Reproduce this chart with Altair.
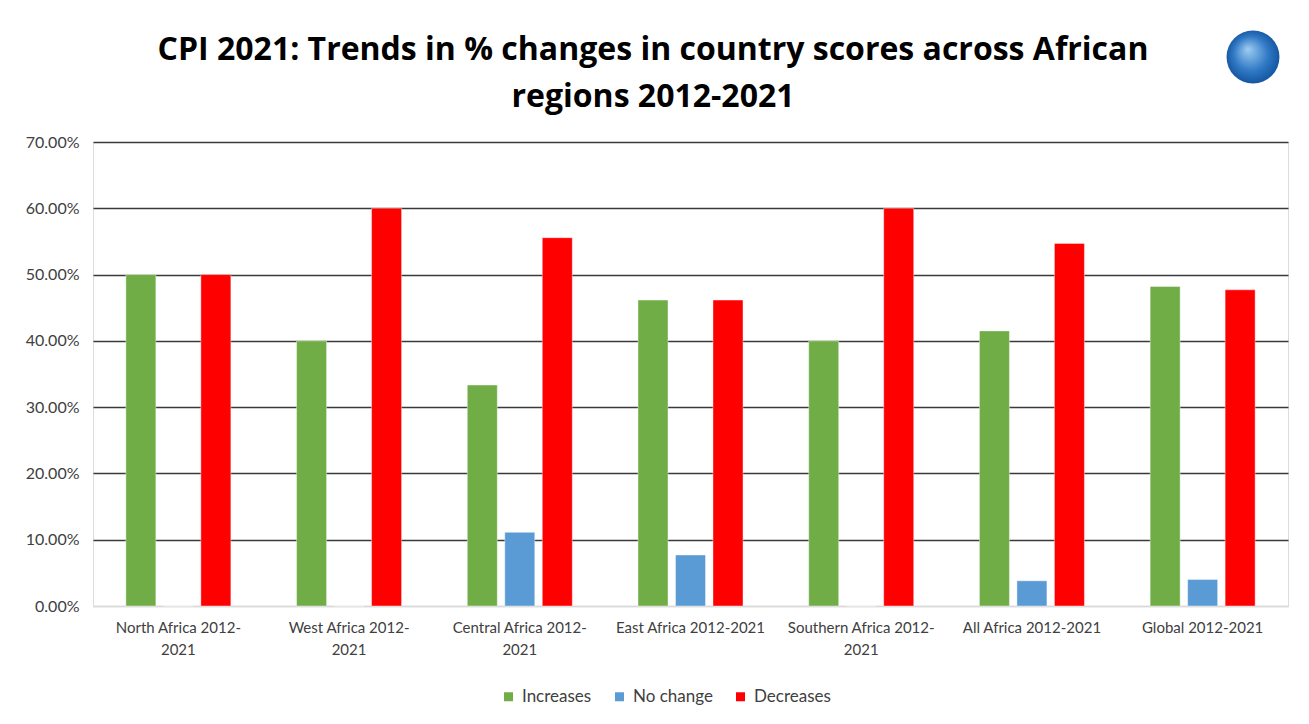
import altair as alt
import pandas as pd

regions = [
    "North Africa 2012-|2021",
    "West Africa 2012-|2021",
    "Central Africa 2012-|2021",
    "East Africa 2012-2021",
    "Southern Africa 2012-|2021",
    "All Africa 2012-2021",
    "Global 2012-2021",
]
series = ["Increases", "No change", "Decreases"]
colors = ["#70AD47", "#5B9BD5", "#FF0000"]

increases = [0.500, 0.400, 0.3333, 0.4615, 0.400, 0.415, 0.482]
no_change = [0.000, 0.000, 0.1111, 0.0769, 0.000, 0.038, 0.040]
decreases = [0.500, 0.600, 0.5556, 0.4615, 0.600, 0.547, 0.477]
y_ticks = [0.0, 0.1, 0.2, 0.3, 0.4, 0.5, 0.6, 0.7]

rows = []
for name, vals in zip(series, [increases, no_change, decreases]):
    for r, v in zip(regions, vals):
        rows.append({"region": r, "series": name, "value": v})
df = pd.DataFrame(rows)

FONT = "Lato"

bars = (
    alt.Chart(df)
    .mark_bar(stroke="#ffffff", strokeOpacity=0.5, strokeWidth=0.8)
    .encode(
        x=alt.X(
            "region:N",
            sort=regions,
            scale=alt.Scale(paddingInner=0.385, paddingOuter=0.1925),
            axis=alt.Axis(
                title=None,
                labelAngle=0,
                labelExpr="split(datum.label, '|')",
                ticks=False,
                grid=False,
                domainColor="#D9D9D9",
                domainWidth=1.5,
                labelFont=FONT,
                labelFontSize=15,
                labelColor="#404040",
                labelPadding=14,
                labelLimit=300,
                labelLineHeight=22,
            ),
        ),
        xOffset=alt.XOffset(
            "series:N", sort=series, scale=alt.Scale(paddingInner=0.2, paddingOuter=0)
        ),
        y=alt.Y(
            "value:Q",
            scale=alt.Scale(domain=[0, 0.7], nice=False),
            axis=alt.Axis(
                title=None,
                format=".2%",
                values=y_ticks,
                domain=False,
                ticks=False,
                gridColor=alt.condition(
                    "datum.value == 0", alt.value("#D9D9D9"), alt.value("#3a3a3a")
                ),
                gridWidth=1.5,
                labelFont=FONT,
                labelFontSize=16,
                labelColor="#404040",
                labelPadding=14,
                minExtent=75,
                maxExtent=75,
            ),
        ),
        color=alt.Color(
            "series:N",
            sort=series,
            scale=alt.Scale(domain=series, range=colors),
            legend=alt.Legend(
                title=None,
                orient="none",
                legendX=407,
                legendY=546,
                direction="horizontal",
                symbolType="square",
                symbolSize=81,
                symbolStrokeWidth=0,
                labelFont=FONT,
                labelFontSize=17,
                labelColor="#404040",
                labelOffset=5,
                columnPadding=19,
            ),
        ),
    )
)

logo = (
    alt.Chart(alt.Data(values=[{"logo": 1}]))
    .mark_point(
        shape="circle",
        filled=True,
        size=2800,
        opacity=1,
        clip=False,
        fill=alt.Gradient(
            gradient="radial",
            stops=[
                alt.GradientStop(color="#9fcdf2", offset=0),
                alt.GradientStop(color="#2f78c4", offset=0.6),
                alt.GradientStop(color="#0f4f9a", offset=1),
            ],
            x1=0.4, y1=0.35, x2=0.5, y2=0.5, r1=0, r2=0.55,
        ),
    )
    .encode(x=alt.value(1160), y=alt.value(-85))
)

chart = (
    alt.layer(bars, logo)
    .properties(
        width=1195,
        height=464,
        padding={"left": 10, "top": 22, "right": 10, "bottom": 5},
        title=alt.Title(
            ["CPI 2021: Trends in % changes in country scores across African", "regions 2012-2021"],
            font="Open Sans",
            fontSize=32,
            fontWeight="bold",
            color="#000000",
            lineHeight=47,
            anchor="middle",
            frame="bounds",
            offset=-83,
        ),
    )
    .configure_view(stroke=None, strokeWidth=0)
    .configure_axisY(domain=False)
    .configure_axisX(grid=False)
    .configure(background="#ffffff")
)

chart.save("out.html", embed_options={"renderer": "svg", "actions": False})
